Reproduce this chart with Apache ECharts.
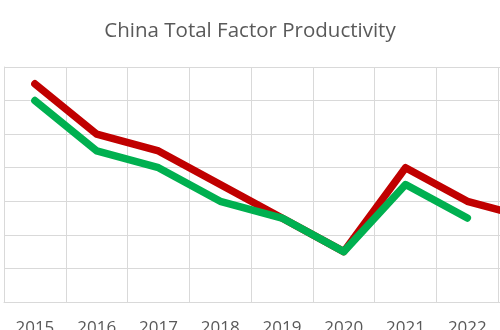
<!DOCTYPE html>
<html>
<head>
<meta charset="utf-8">
<script src="https://cdn.jsdelivr.net/npm/echarts@6/dist/echarts.min.js"></script>
<style>html,body{margin:0;padding:0;background:#fff;}#c{width:500px;height:330px;}</style>
</head>
<body>
<div id="c"></div>
<script>
var years = ['2015','2016','2017','2018','2019','2020','2021','2022','2023'];
var redSeries = [6.5, 5, 4.5, 3.5, 2.5, 1.5, 4, 3, 2.5];
var greenSeries = [6, 4.5, 4, 3, 2.5, 1.5, 3.5, 2.5, null];

var chart = echarts.init(document.getElementById('c'), null, {renderer: 'canvas'});
chart.setOption({
  animation: false,
  backgroundColor: '#ffffff',
  title: {
    text: 'China Total Factor Productivity',
    left: 'center',
    top: 16,
    textStyle: {fontFamily: 'Open Sans', fontSize: 20.5, fontWeight: 'normal', color: '#595959'}
  },
  grid: {left: 4, top: 67, width: 556, height: 235, containLabel: false, outerBoundsMode: 'none'},
  xAxis: {
    type: 'category',
    data: years,
    boundaryGap: true,
    axisLine: {lineStyle: {color: '#d9d9d9', width: 1}},
    axisTick: {show: false},
    splitLine: {show: true, lineStyle: {color: '#d9d9d9', width: 1}},
    axisLabel: {fontFamily: 'Open Sans', fontSize: 17, color: '#595959', margin: 18}
  },
  yAxis: {
    type: 'value',
    min: 0, max: 7, interval: 1,
    axisLine: {show: true, lineStyle: {color: '#d9d9d9', width: 1}},
    axisTick: {show: false},
    axisLabel: {show: false},
    splitLine: {show: true, lineStyle: {color: '#d9d9d9', width: 1}}
  },
  series: [
    {type: 'line', data: redSeries, symbol: 'none', smooth: false,
     lineStyle: {color: '#c00000', width: 7.5, cap: 'round', join: 'round'}},
    {type: 'line', data: greenSeries, symbol: 'none', smooth: false,
     lineStyle: {color: '#00b050', width: 7.5, cap: 'round', join: 'round'}}
  ]
});
</script>
</body>
</html>
